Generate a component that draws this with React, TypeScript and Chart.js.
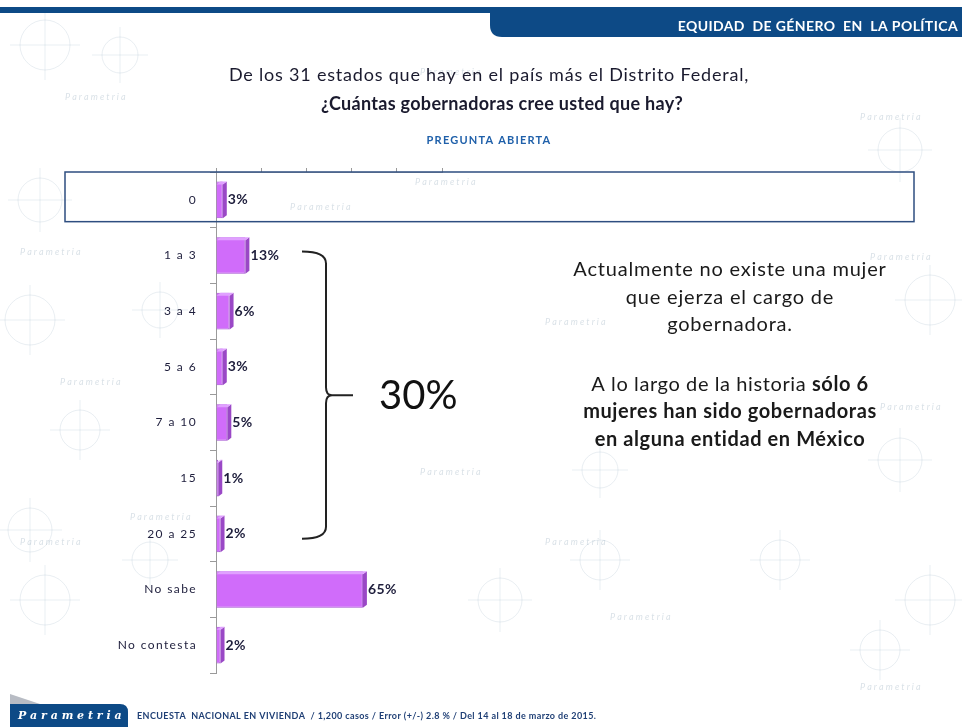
import React, { useEffect, useRef } from "react";
import { Chart, registerables } from "chart.js";

Chart.register(...registerables);

const categories = ["0", "1 a 3", "3 a 4", "5 a 6", "7 a 10", "15", "20 a 25", "No sabe", "No contesta"];
const values = [3, 13, 6, 3, 5, 1, 2, 65, 2];
const xTicks = [0, 20, 40, 60, 80, 100];

const titleLine1 = "De los 31 estados que hay en el país más el Distrito Federal,";
const titleLine2 = "¿Cuántas gobernadoras cree usted que hay?";
const subtitle = "PREGUNTA ABIERTA";
const headerText = "EQUIDAD  DE GÉNERO  EN  LA POLÍTICA";
const footerText = "ENCUESTA  NACIONAL EN VIVIENDA  / 1,200 casos / Error (+/-) 2.8 % / Del 14 al 18 de marzo de 2015.";
const bracketLabel = "30%";

const FONT = "Lato, 'Open Sans', sans-serif";

function drawCentered(ctx: any, parts: { t: string; b: boolean }[], cx: number, y: number, size: number, ls: number) {
  ctx.letterSpacing = ls + "px";
  let total = 0;
  const widths = parts.map((p) => {
    ctx.font = `${p.b ? "bold " : ""}${size}px ${FONT}`;
    const w = ctx.measureText(p.t).width;
    total += w;
    return w;
  });
  let x = cx - total / 2;
  ctx.textAlign = "left";
  parts.forEach((p, i) => {
    ctx.font = `${p.b ? "bold " : ""}${size}px ${FONT}`;
    ctx.fillText(p.t, x, y);
    x += widths[i];
  });
  ctx.letterSpacing = "0px";
}

function txt(ctx: any, s: string, x: number, y: number, font: string, align: string, ls: number) {
  ctx.letterSpacing = ls + "px";
  ctx.font = font;
  ctx.textAlign = align;
  ctx.fillText(s, x, y);
  ctx.letterSpacing = "0px";
}

const slidePlugin = {
  id: "slide",
  beforeDraw(chart: any) {
    const ctx: any = chart.ctx;
    const W = chart.width;
    ctx.save();
    ctx.fillStyle = "#ffffff";
    ctx.fillRect(0, 0, W, chart.height);
    // faint watermark pattern
    ctx.strokeStyle = "rgba(175,195,210,0.28)";
    ctx.lineWidth = 1;
    const circles = [
      [45, 45, 25], [120, 55, 18], [40, 200, 22], [30, 320, 25], [80, 430, 20], [30, 530, 22], [45, 600, 25],
      [900, 150, 22], [930, 300, 25], [900, 460, 22], [930, 600, 25], [880, 650, 20], [500, 600, 22], [600, 560, 20],
      [160, 310, 18], [150, 560, 18], [600, 470, 18], [780, 560, 20],
    ];
    circles.forEach(([x, y, r]) => {
      ctx.beginPath();
      ctx.arc(x, y, r, 0, Math.PI * 2);
      ctx.stroke();
      ctx.beginPath();
      ctx.moveTo(x - r - 10, y);
      ctx.lineTo(x + r + 10, y);
      ctx.moveTo(x, y - r - 10);
      ctx.lineTo(x, y + r + 10);
      ctx.stroke();
    });
    ctx.fillStyle = "rgba(160,180,195,0.4)";
    ctx.font = `italic 9px ${FONT}`;
    const marks = [
      [65, 100], [420, 75], [860, 120], [20, 255], [415, 185], [290, 210], [545, 325], [60, 385], [880, 410],
      [20, 545], [420, 475], [545, 545], [610, 620], [860, 690], [130, 520], [870, 260],
    ];
    marks.forEach(([x, y]) => {
      ctx.textAlign = "left";
      ctx.fillText("P a r a m e t r i a", x, y);
    });
    // header
    ctx.fillStyle = "#0D4A86";
    ctx.fillRect(0, 7, W, 6);
    ctx.beginPath();
    ctx.moveTo(490, 7);
    ctx.lineTo(W, 7);
    ctx.lineTo(W, 37);
    ctx.lineTo(502, 37);
    ctx.quadraticCurveTo(490, 37, 490, 25);
    ctx.closePath();
    ctx.fill();
    ctx.fillStyle = "#ffffff";
    ctx.textBaseline = "middle";
    txt(ctx, headerText, 958, 26, `bold 14px ${FONT}`, "right", 0.4);
    ctx.restore();
  },
  afterDatasetsDraw(chart: any) {
    const ctx: any = chart.ctx;
    const meta = chart.getDatasetMeta(0);
    ctx.save();
    meta.data.forEach((bar: any, i: number) => {
      const h = bar.height;
      const top = bar.y - h / 2;
      // 3D side face
      ctx.fillStyle = "#9A48C6";
      ctx.beginPath();
      ctx.moveTo(bar.x, top + 3);
      ctx.lineTo(bar.x + 4, top);
      ctx.lineTo(bar.x + 4, top + h - 3);
      ctx.lineTo(bar.x, top + h);
      ctx.closePath();
      ctx.fill();
      // top face
      ctx.fillStyle = "#E0A0FF";
      ctx.beginPath();
      ctx.moveTo(bar.base, top + 3);
      ctx.lineTo(bar.base + 4, top);
      ctx.lineTo(bar.x + 4, top);
      ctx.lineTo(bar.x, top + 3);
      ctx.closePath();
      ctx.fill();
      ctx.fillStyle = "#1E1E3C";
      ctx.textBaseline = "middle";
      txt(ctx, values[i] + "%", bar.x + 5, bar.y, `bold 14px ${FONT}`, "left", 0.4);
    });
    ctx.restore();
  },
  afterDraw(chart: any) {
    const ctx: any = chart.ctx;
    const y = chart.scales.y;
    ctx.save();
    ctx.textBaseline = "middle";

    // category labels placed by the y scale
    ctx.fillStyle = "#1E1E3C";
    categories.forEach((c, i) => {
      txt(ctx, c, y.right - 19, y.getPixelForValue(i), `12px ${FONT}`, "right", 1.4);
    });

    ctx.fillStyle = "#1A1A2E";
    txt(ctx, titleLine1, 489, 75, `18px ${FONT}`, "center", 0.8);
    txt(ctx, titleLine2, 502, 104, `bold 18px ${FONT}`, "center", 0.3);
    ctx.fillStyle = "#1F60AA";
    txt(ctx, subtitle, 489, 140, `bold 11px ${FONT}`, "center", 1.2);

    // highlight rectangle around the "0" row
    const r0 = y.getPixelForValue(0);
    const half = (y.getPixelForValue(1) - r0) / 2;
    ctx.strokeStyle = "#2E4E80";
    ctx.lineWidth = 1.5;
    ctx.strokeRect(65, r0 - half, 849, half * 2 - 6);

    // brace
    const bTop = y.getPixelForValue(1) - 4;
    const bBot = y.getPixelForValue(6) + 5;
    const mid = (bTop + bBot) / 2;
    const bx = 326;
    ctx.strokeStyle = "#222222";
    ctx.lineWidth = 2;
    ctx.beginPath();
    ctx.moveTo(302, bTop);
    ctx.quadraticCurveTo(bx, bTop, bx, bTop + 12);
    ctx.lineTo(bx, mid - 8);
    ctx.quadraticCurveTo(bx, mid, bx + 6, mid);
    ctx.lineTo(353, mid);
    ctx.moveTo(bx + 6, mid);
    ctx.quadraticCurveTo(bx, mid, bx, mid + 8);
    ctx.lineTo(bx, bBot - 12);
    ctx.quadraticCurveTo(bx, bBot, 302, bBot);
    ctx.stroke();
    ctx.fillStyle = "#111111";
    txt(ctx, bracketLabel, 379, mid + 1, `40px ${FONT}`, "left", 0);

    // right-hand note
    ctx.fillStyle = "#1A1A1A";
    const cx = 730;
    drawCentered(ctx, [{ t: "Actualmente no existe una mujer", b: false }], cx, 270, 20, 0.8);
    drawCentered(ctx, [{ t: "que ejerza el cargo de", b: false }], cx, 298, 20, 0.8);
    drawCentered(ctx, [{ t: "gobernadora.", b: false }], cx, 325, 20, 0.8);
    drawCentered(ctx, [{ t: "A lo largo de la historia ", b: false }, { t: "sólo 6", b: true }], cx, 385, 20, 0.6);
    drawCentered(ctx, [{ t: "mujeres han sido gobernadoras", b: true }], cx, 412, 20, 0.6);
    drawCentered(ctx, [{ t: "en alguna entidad en México", b: true }], cx, 440, 20, 0.6);

    // footer
    ctx.fillStyle = "#B8BCC4";
    ctx.beginPath();
    ctx.moveTo(10, 694);
    ctx.lineTo(40, 704);
    ctx.lineTo(10, 706);
    ctx.closePath();
    ctx.fill();
    ctx.fillStyle = "#0D4A86";
    ctx.beginPath();
    ctx.moveTo(10, 704);
    ctx.lineTo(120, 704);
    ctx.quadraticCurveTo(128, 704, 128, 712);
    ctx.lineTo(128, 727);
    ctx.lineTo(10, 727);
    ctx.closePath();
    ctx.fill();
    ctx.fillStyle = "#ffffff";
    txt(ctx, "P a r a m e t r i a", 18, 716, `bold italic 11px 'DejaVu Serif', serif`, "left", 0);
    ctx.fillStyle = "#1F3F75";
    txt(ctx, footerText, 137, 716, `bold 9px ${FONT}`, "left", 0.4);
    ctx.restore();
  },
};

export default function App() {
  const ref = useRef<HTMLCanvasElement | null>(null);
  useEffect(() => {
    if (!ref.current) return;
    const chart = new Chart(ref.current, {
      type: "bar",
      data: {
        labels: categories,
        datasets: [
          {
            data: values,
            backgroundColor: "#D06CFA",
            borderColor: "#A44FD2",
            borderWidth: 1,
            categoryPercentage: 1,
            barPercentage: 0.66,
          },
        ],
      },
      options: {
        indexAxis: "y",
        animation: false,
        responsive: false,
        maintainAspectRatio: false,
        devicePixelRatio: 1,
        layout: { padding: { left: 136, top: 162, right: 520, bottom: 54 } },
        plugins: { legend: { display: false }, tooltip: { enabled: false }, title: { display: false } },
        scales: {
          x: {
            position: "top",
            min: 0,
            max: 100,
            afterBuildTicks: (scale: any) => {
              scale.ticks = xTicks.map((v) => ({ value: v }));
            },
            afterFit: (scale: any) => {
              scale.height = 10;
            },
            ticks: { display: false },
            grid: { drawOnChartArea: false, drawTicks: true, tickLength: 4, color: "#9A9A9A" },
            border: { display: true, color: "#B0B0B0", width: 1 },
          },
          y: {
            afterFit: (scale: any) => {
              scale.width = 80;
            },
            ticks: { display: false },
            grid: { drawOnChartArea: false, offset: true, tickLength: 6, color: "#9A9A9A" },
            border: { display: true, color: "#9A9A9A", width: 1 },
          },
        },
      },
      plugins: [slidePlugin],
    });
    return () => chart.destroy();
  }, []);
  return (
    <div style={{ position: "fixed", left: 0, top: 0, width: 962, height: 727 }}>
      <canvas ref={ref} width={962} height={727} style={{ display: "block" }} />
    </div>
  );
}
